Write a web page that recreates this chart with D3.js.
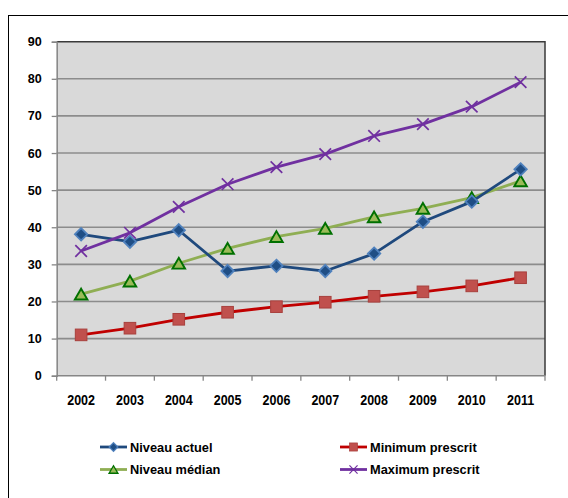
<!DOCTYPE html>
<html>
<head>
<meta charset="utf-8">
<script src="https://cdn.jsdelivr.net/npm/d3@7"></script>
<style>
  html, body { margin: 0; padding: 0; background: #fff; }
  svg { display: block; }
  text { font-family: "Liberation Sans", Arial, sans-serif; font-weight: bold; fill: #000; }
</style>
</head>
<body>
<svg id="chart" width="568" height="498"></svg>
<script>
// Years on the category axis
const years = ["2002", "2003", "2004", "2005", "2006", "2007", "2008", "2009", "2010", "2011"];

// Series values
const niveauActuel    = [38.1, 36.1, 39.2, 28.2, 29.6, 28.2, 32.9, 41.5, 46.9, 55.6];
const minimumPrescrit = [11.0, 12.8, 15.2, 17.1, 18.6, 19.8, 21.4, 22.6, 24.2, 26.4];
const niveauMedian    = [22.0, 25.5, 30.3, 34.3, 37.5, 39.7, 42.8, 45.1, 48.0, 52.5];
const maximumPrescrit = [33.6, 38.5, 45.5, 51.6, 56.2, 59.7, 64.6, 67.8, 72.5, 79.1];

// Value axis ticks
const yTicks = [0, 10, 20, 30, 40, 50, 60, 70, 80, 90];

const series = [
  { name: "Niveau actuel",    values: niveauActuel,    line: "#1f497d", marker: "diamond" },
  { name: "Minimum prescrit", values: minimumPrescrit, line: "#c00000", marker: "square" },
  { name: "Niveau médian",    values: niveauMedian,    line: "#8fae53", marker: "triangle" },
  { name: "Maximum prescrit", values: maximumPrescrit, line: "#7030a0", marker: "cross" }
];

const svg = d3.select("#chart");

// Outer chart frame
svg.append("rect")
  .attr("x", 8.5).attr("y", 15.5)
  .attr("width", 700).attr("height", 700)
  .attr("fill", "#fff").attr("stroke", "#000").attr("stroke-width", 1);

const plot = { left: 56.7, right: 545, top: 41.7, bottom: 375.7 };

const x = d3.scaleBand().domain(years).range([plot.left, plot.right]).paddingInner(0).paddingOuter(0);
const y = d3.scaleLinear().domain([0, 90]).range([plot.bottom, plot.top]);

// Plot background
svg.append("rect")
  .attr("x", plot.left).attr("y", plot.top)
  .attr("width", plot.right - plot.left).attr("height", plot.bottom - plot.top)
  .attr("fill", "#d9d9d9");

// Horizontal gridlines
svg.append("g").selectAll("line")
  .data(yTicks.filter(v => v > 0 && v < 90))
  .join("line")
  .attr("x1", plot.left).attr("x2", plot.right)
  .attr("y1", d => y(d)).attr("y2", d => y(d))
  .attr("stroke", "#8c8c8c").attr("stroke-width", 1.6);

// Plot border (top and right dark)
svg.append("path")
  .attr("d", `M${plot.left},${plot.top}H${plot.right}V${plot.bottom}`)
  .attr("fill", "none").attr("stroke", "#3a3a3a").attr("stroke-width", 1.5);

// Y axis
const yAxis = d3.axisLeft(y).tickValues(yTicks).tickSize(5).tickPadding(10).tickFormat(d3.format("d"));
const gy = svg.append("g").attr("transform", `translate(${plot.left},0)`).call(yAxis);
gy.select(".domain").attr("stroke", "#868686").attr("stroke-width", 1.5);
gy.selectAll(".tick line").attr("stroke", "#868686").attr("stroke-width", 1.3);
gy.selectAll(".tick text")
  .attr("font-size", 12.6).attr("font-family", "Liberation Sans, Arial, sans-serif")
  .attr("font-weight", "bold").attr("fill", "#000");

// X axis with ticks between categories
const gx = svg.append("g").attr("transform", `translate(0,${plot.bottom})`);
gx.append("line")
  .attr("x1", plot.left).attr("x2", plot.right)
  .attr("stroke", "#868686").attr("stroke-width", 1.5);
const boundaries = years.map(d => x(d)).concat([x(years[years.length - 1]) + x.bandwidth()]);
gx.selectAll("line.tk")
  .data(boundaries)
  .join("line").attr("class", "tk")
  .attr("x1", d => d).attr("x2", d => d)
  .attr("y1", 0).attr("y2", 5)
  .attr("stroke", "#868686").attr("stroke-width", 1.3);
// Category labels, set slightly tall
gx.selectAll("text")
  .data(years)
  .join("text")
  .attr("transform", d => `translate(${x(d) + x.bandwidth() / 2},29) scale(1,1.14)`)
  .attr("text-anchor", "middle")
  .attr("font-size", 12.5)
  .text(d => d);

const cx = (i) => x(years[i]) + x.bandwidth() / 2;

// Marker drawing
function drawMarker(g, type, px, py, scale) {
  const s = scale || 1;
  if (type === "diamond") {
    const r = 6.2 * s;
    g.append("path")
      .attr("d", `M${px},${py - r}L${px + r},${py}L${px},${py + r}L${px - r},${py}Z`)
      .attr("fill", "#1f4e85").attr("stroke", "#4f81bd").attr("stroke-width", 1.8 * s);
  } else if (type === "square") {
    const h = 5.8 * s;
    g.append("rect")
      .attr("x", px - h).attr("y", py - h).attr("width", 2 * h).attr("height", 2 * h)
      .attr("fill", "#c0504d").attr("stroke", "#a8403d").attr("stroke-width", 1 * s);
  } else if (type === "triangle") {
    const w = 6.3 * s, h = 5.4 * s;
    g.append("path")
      .attr("d", `M${px},${py - h}L${px + w},${py + h}L${px - w},${py + h}Z`)
      .attr("fill", "#9bbb59").attr("stroke", "#007000").attr("stroke-width", 1.9 * s)
      .attr("stroke-linejoin", "miter");
  } else if (type === "cross") {
    const r = 5.8 * s;
    g.append("path")
      .attr("d", `M${px - r},${py - r}L${px + r},${py + r}M${px - r},${py + r}L${px + r},${py - r}`)
      .attr("stroke", "#7030a0").attr("stroke-width", 1.7 * s).attr("fill", "none");
  }
}

// Series lines and markers (drawn in stacking order)
const drawOrder = [1, 2, 0, 3];
drawOrder.forEach(k => {
  const s = series[k];
  const line = d3.line().x((d, i) => cx(i)).y(d => y(d));
  svg.append("path")
    .datum(s.values)
    .attr("d", line)
    .attr("fill", "none")
    .attr("stroke", s.line)
    .attr("stroke-width", 2.8)
    .attr("stroke-linejoin", "round");
  const g = svg.append("g");
  s.values.forEach((v, i) => drawMarker(g, s.marker, cx(i), y(v), 1));
});

// Legend: two columns, two rows
const legendPos = [
  { col: 100, row: 447 },
  { col: 340, row: 447 },
  { col: 100, row: 469.5 },
  { col: 340, row: 469.5 }
];
series.forEach((s, k) => {
  const p = legendPos[k];
  const g = svg.append("g");
  g.append("line")
    .attr("x1", p.col).attr("x2", p.col + 27)
    .attr("y1", p.row).attr("y2", p.row)
    .attr("stroke", s.line).attr("stroke-width", 2.8);
  drawMarker(g, s.marker, p.col + 13.5, p.row, 0.7);
  g.append("text")
    .attr("x", p.col + 30).attr("y", p.row + 4.7)
    .attr("font-size", 12.8)
    .text(s.name);
});
</script>
</body>
</html>
